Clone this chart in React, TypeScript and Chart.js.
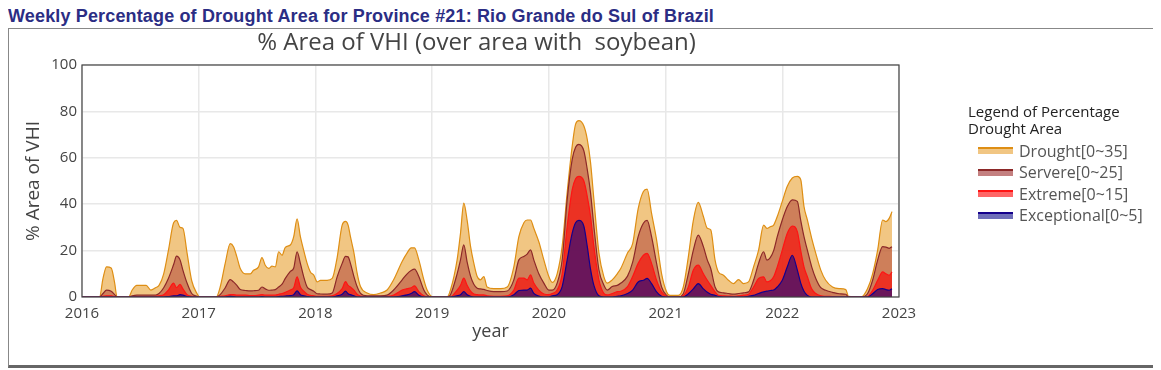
import React, { useEffect, useRef } from 'react';
import { Chart, registerables } from 'chart.js';

Chart.register(...registerables);

// ---- data (decimal year of each sampled week, and % area per class) ----
const weeks = [
  2016.0, 2016.15, 2016.18, 2016.21, 2016.25, 2016.28, 2016.3, 2016.4, 2016.43, 2016.47,
  2016.55, 2016.59, 2016.63, 2016.66, 2016.7, 2016.74, 2016.785, 2016.81, 2016.84, 2016.865,
  2016.9, 2016.94, 2016.985, 2017.01, 2017.15, 2017.184, 2017.227, 2017.27, 2017.298, 2017.327,
  2017.356, 2017.399, 2017.442, 2017.47, 2017.513, 2017.542, 2017.57, 2017.599, 2017.628, 2017.656,
  2017.685, 2017.714, 2017.742, 2017.785, 2017.814, 2017.843, 2017.871, 2017.9, 2017.929, 2017.957,
  2017.986, 2018.015, 2018.043, 2018.1, 2018.144, 2018.186, 2018.229, 2018.258, 2018.28, 2018.3,
  2018.33, 2018.357, 2018.386, 2018.443, 2018.5, 2018.557, 2018.614, 2018.67, 2018.743, 2018.786,
  2018.82, 2018.849, 2018.886, 2018.929, 2018.957, 2019.0, 2019.129, 2019.157, 2019.214, 2019.243,
  2019.271, 2019.3, 2019.329, 2019.357, 2019.386, 2019.414, 2019.443, 2019.471, 2019.529, 2019.586,
  2019.643, 2019.7, 2019.743, 2019.786, 2019.814, 2019.843, 2019.871, 2019.914, 2019.957, 2020.0,
  2020.029, 2020.071, 2020.114, 2020.157, 2020.2, 2020.229, 2020.257, 2020.3, 2020.329, 2020.357,
  2020.386, 2020.429, 2020.471, 2020.5, 2020.543, 2020.586, 2020.617, 2020.674, 2020.718, 2020.765,
  2020.81, 2020.842, 2020.88, 2020.923, 2020.966, 2021.009, 2021.037, 2021.109, 2021.152, 2021.195,
  2021.238, 2021.28, 2021.324, 2021.358, 2021.387, 2021.424, 2021.453, 2021.496, 2021.539, 2021.582,
  2021.625, 2021.668, 2021.711, 2021.754, 2021.797, 2021.84, 2021.868, 2021.897, 2021.926, 2021.957,
  2022.0, 2022.043, 2022.086, 2022.129, 2022.158, 2022.186, 2022.215, 2022.252, 2022.287, 2022.33,
  2022.372, 2022.43, 2022.487, 2022.544, 2022.567, 2022.673, 2022.73, 2022.774, 2022.817, 2022.86,
  2022.888, 2022.917, 2022.94,
];

const drought = [
  0, 0, 8, 13, 12.5, 6, 0, 0, 3, 5,
  5, 3, 4, 5, 10, 20, 32, 33, 30, 29.6,
  19, 7, 1.5, 0, 0, 4.3, 14.5, 23, 21.7, 17.3,
  12.3, 10, 10, 11.5, 13, 17, 13.7, 12.3, 13.3, 13,
  19.5, 18, 21.4, 22.4, 26, 33.7, 26, 20, 14.5, 10.8,
  9.4, 6.5, 7.2, 7.2, 8, 17, 31, 32.6, 31, 26,
  19, 10.4, 4.5, 1.7, 1, 1.7, 3, 7.4, 15.3, 19,
  21.2, 21.2, 16, 7.4, 3, 0.2, 0, 3, 16, 27.5,
  40.5, 33, 21.8, 14.6, 8.8, 7.4, 8.8, 4.3, 3.6, 3.6,
  4.3, 13, 26, 32, 33.2, 33.2, 29.6, 23.8, 16, 8.8,
  6.3, 10, 21.8, 45, 65, 74.5, 76, 73.7, 68, 58,
  42, 19, 8.8, 6, 7.4, 10, 12.4, 19, 23, 38,
  45.5, 46.5, 36, 24.6, 10, 2.2, 0.7, 0.7, 4.3, 17.3,
  33, 40.8, 34.7, 29.6, 28.9, 15.9, 10.8, 9.4, 7.2, 5.8,
  7.5, 5.8, 6.5, 13, 20.2, 31, 29.6, 30.3, 31, 34.7,
  41.2, 47.7, 51.3, 52, 50.6, 39, 33.2, 25.3, 18.8, 11.6,
  7.2, 4.3, 3.6, 3.2, 0.3, 0, 3.6, 10, 20.2, 33.2,
  32.5, 34, 36.8,
];

const severe = [
  0, 0, 1.5, 3, 2.5, 1, 0, 0, 0.5, 0.8,
  0.8, 0.8, 0.8, 1.5, 4, 8, 14, 17.6, 16, 11.5,
  6, 1.5, 0.3, 0, 0, 1, 4, 7.5, 6.5, 5,
  3.2, 2.8, 2.6, 2.7, 2.9, 4.3, 3.5, 2.9, 3, 3.2,
  4.3, 5.5, 8, 11, 12.5, 19.5, 14.5, 8.7, 4.3, 3.2,
  2.5, 1.4, 1.3, 1.2, 1.7, 8.7, 14.5, 17.5, 17.3, 14.5,
  8.8, 4.5, 1.6, 0.5, 0.5, 0.5, 0.8, 3, 7.4, 10,
  11.4, 12, 8.8, 3, 0.9, 0, 0, 1, 10, 16,
  22.5, 15, 9, 5.5, 3.8, 3.5, 3.3, 2.8, 2.3, 2.3,
  2.6, 7.4, 16, 17.5, 18.5, 20.3, 16, 10, 6, 3,
  3, 6, 16, 42, 59.3, 64.5, 65.8, 63, 55, 45,
  30.4, 11.7, 5.2, 3, 4.5, 5, 6, 9, 15, 26,
  31.8, 33, 26, 14.5, 4.3, 0.7, 0, 0, 1.4, 10,
  20.2, 26.7, 21.7, 15.9, 12.3, 4.3, 2.2, 1.8, 1.5, 1.2,
  1.5, 1.8, 2.2, 7.2, 14.5, 19.5, 15.9, 17, 20, 26,
  33.2, 39, 41.9, 41.2, 33, 26, 20.2, 13, 8, 4,
  2.9, 2, 1.4, 1.2, 0, 0, 1.4, 7.2, 15.9, 21.7,
  21.5, 21, 21.7,
];

const extreme = [
  0, 0, 0.3, 0.5, 0.5, 0.2, 0, 0, 0, 0.2,
  0.2, 0.2, 0.3, 0.5, 1, 3, 6, 4, 5.5, 3.5,
  1, 0.3, 0, 0, 0, 0.3, 0.5, 1, 1, 0.8,
  0.8, 0.8, 0.6, 0.6, 0.8, 1, 0.8, 0.8, 0.8, 0.8,
  1.2, 1.5, 2, 3, 4, 8.7, 4.3, 2.5, 1.2, 0.7,
  0.5, 0.3, 0.3, 0.3, 0.5, 1.5, 3.6, 6.6, 5, 4.3,
  3, 1.2, 0.4, 0, 0, 0, 0.2, 0.8, 3, 3.6,
  4, 4.8, 2.3, 0.5, 0, 0, 0, 0, 3, 5,
  8.1, 5, 2.5, 1.3, 1, 0.9, 0.9, 0.5, 0.3, 0.3,
  0.5, 3, 8.1, 8.1, 7.4, 9.5, 6, 3, 1.3, 1,
  1.5, 3, 10, 30.4, 46.3, 51, 52, 50, 43.4, 34.8,
  21.8, 7.4, 1.6, 0.9, 1.5, 2.3, 2.5, 4.5, 8.8, 14.5,
  18, 18.8, 14.5, 7.2, 2.2, 0.3, 0, 0, 0.5, 4.3,
  11.6, 13.7, 10, 7.2, 5, 2.2, 0.7, 0.5, 0.4, 0.3,
  0.5, 0.8, 1.2, 4.3, 8, 8.7, 6.5, 7, 8.7, 13,
  20.2, 27.5, 30.6, 28.2, 20, 13, 8.7, 3.5, 1.5, 0.5,
  0.3, 0.2, 0, 0, 0, 0, 0.2, 2.9, 7.2, 10.8,
  10, 9.4, 10.8,
];

const exceptional = [
  0, 0, 0, 0, 0, 0, 0, 0, 0, 0,
  0, 0, 0, 0, 0, 0.2, 0.5, 0.5, 1, 0.8,
  0.2, 0, 0, 0, 0, 0, 0, 0.3, 0.2, 0,
  0, 0, 0, 0, 0, 0.2, 0, 0, 0, 0,
  0.2, 0.3, 0.4, 0.6, 1, 2.6, 1, 0.5, 0.2, 0,
  0, 0, 0, 0, 0, 0.5, 1.2, 2.5, 1.4, 1,
  0.5, 0, 0, 0, 0, 0, 0, 0, 0.5, 0.9,
  1.5, 2.3, 0.8, 0, 0, 0, 0, 0, 0.5, 1,
  2.3, 1, 0.3, 0, 0, 0, 0, 0, 0, 0,
  0, 1, 2.8, 3, 3, 3.8, 1.6, 0.4, 0, 0,
  0.5, 1, 4.5, 16, 27.5, 32, 33, 30.5, 21.8, 12,
  5, 0.5, 0, 0, 0, 0.3, 0.5, 1.5, 3, 6.5,
  7.2, 8, 5.8, 2.2, 0.3, 0, 0, 0, 0, 1.4,
  3.5, 5.8, 3.5, 2, 1.2, 0.7, 0.2, 0, 0, 0,
  0, 0, 0.3, 0.7, 1.5, 2.2, 2.5, 2.8, 3, 4.3,
  7.2, 13, 18, 11.6, 6, 2.5, 0.7, 0, 0, 0,
  0, 0, 0, 0, 0, 0, 0, 1.4, 3.2, 3.6,
  3.2, 2.9, 3.6,
];

const seriesLabels = ['Drought[0~35]', 'Servere[0~25]', 'Extreme[0~15]', 'Exceptional[0~5]'];
const yearTicks = [2016, 2017, 2018, 2019, 2020, 2021, 2022, 2023];
const yTicks = [0, 20, 40, 60, 80, 100];
const chartTitle = '% Area of VHI (over area with  soybean)';

// ---- styles ----
const FONT = "'Open Sans', 'DejaVu Sans', sans-serif";
const fills = ['rgba(232,160,48,0.6)', 'rgba(165,42,42,0.45)', 'rgba(255,0,0,0.6)', 'rgba(0,0,139,0.55)'];
const lines = ['rgb(222,142,20)', 'rgb(140,40,40)', 'rgb(255,20,20)', 'rgb(20,0,140)'];
const swatchFills = ['rgb(241,198,131)', 'rgb(196,128,128)', 'rgb(255,102,102)', 'rgb(110,110,185)'];

const framePlugin = {
  id: 'frame',
  afterDraw(chart: any) {
    const { ctx, chartArea } = chart;
    ctx.save();
    ctx.strokeStyle = '#444';
    ctx.lineWidth = 1.2;
    ctx.strokeRect(chartArea.left, chartArea.top, chartArea.right - chartArea.left, chartArea.bottom - chartArea.top);
    // chart title, centred slightly left of the plot centre as in the original figure
    ctx.fillStyle = '#444';
    ctx.font = `24px ${FONT}`;
    ctx.textAlign = 'center';
    ctx.textBaseline = 'middle';
    ctx.fillText(chartTitle, (chartArea.left + chartArea.right) / 2 - 14, 14);
    ctx.restore();
  },
};

export default function App() {
  const ref = useRef<HTMLCanvasElement | null>(null);

  useEffect(() => {
    if (!ref.current) return;
    const all = [drought, severe, extreme, exceptional];
    const datasets = all.map((vals, i) => ({
      label: seriesLabels[i],
      data: weeks.map((w, k) => ({ x: w, y: vals[k] })),
      backgroundColor: fills[i],
      borderColor: lines[i],
      borderWidth: 1.2,
      pointRadius: 0,
      fill: 'origin',
      cubicInterpolationMode: 'monotone' as const,
      order: 4 - i,
    }));
    const chart = new Chart(ref.current, {
      type: 'line',
      data: { datasets },
      plugins: [framePlugin],
      options: {
        animation: false,
        responsive: false,
        devicePixelRatio: 1,
        layout: { padding: { left: 13, right: 256, top: 36, bottom: 21 } },
        plugins: {
          legend: { display: false },
          tooltip: { enabled: false },
          title: { display: false },
        },
        scales: {
          x: {
            type: 'linear',
            min: 2016,
            max: 2023,
            afterBuildTicks: (s: any) => { s.ticks = yearTicks.map((v) => ({ value: v })); },
            afterFit: (s: any) => { s.height = 46; },
            ticks: {
              color: '#444',
              font: { family: FONT, size: 15 },
              padding: 8,
              maxRotation: 0,
              callback: (v: any) => String(v),
            },
            grid: { color: '#e8e8e8', lineWidth: 1.5, drawTicks: false },
            border: { display: false },
            title: {
              display: true,
              text: 'year',
              color: '#444',
              font: { family: FONT, size: 18 },
              padding: { top: 0, bottom: 0 },
            },
          },
          y: {
            min: 0,
            max: 100,
            afterBuildTicks: (s: any) => { s.ticks = yTicks.map((v) => ({ value: v })); },
            afterFit: (s: any) => { s.width = 60; },
            ticks: {
              color: '#444',
              font: { family: FONT, size: 15 },
              padding: 5,
            },
            grid: { color: '#e8e8e8', lineWidth: 1.5, drawTicks: false },
            border: { display: false },
            title: {
              display: true,
              text: '% Area of VHI',
              color: '#444',
              font: { family: FONT, size: 19 },
              padding: { top: 0, bottom: 0 },
            },
          },
        },
      },
    } as any);
    return () => chart.destroy();
  }, []);

  return (
    <div style={{ position: 'relative', width: 1150, height: 362 }}>
      <div
        style={{
          position: 'absolute', top: -2, left: 0, whiteSpace: 'nowrap',
          font: "bold 18px 'Liberation Sans', Arial, sans-serif", lineHeight: '20px', color: '#2b2d84',
          letterSpacing: '0.15px',
        }}
      >
        Weekly Percentage of Drought Area for Province #21: Rio Grande do Sul of Brazil
      </div>
      <div
        style={{
          position: 'absolute', top: 20, left: 0, width: 1146, height: 336,
          borderTop: '1px solid #888', borderLeft: '1px solid #888', borderRight: '1px solid #888',
          borderBottom: '3px solid #666',
        }}
      >
        <canvas ref={ref} width={1146} height={335} style={{ position: 'absolute', top: 0, left: 0 }} />
        <div style={{ position: 'absolute', left: 959, top: 74, fontFamily: FONT, color: '#222' }}>
          <div style={{ fontSize: 15, lineHeight: '17px' }}>Legend of Percentage<br />Drought Area</div>
          <div style={{ marginTop: 3 }}>
            {seriesLabels.map((lab, i) => (
              <div key={lab} style={{ display: 'flex', alignItems: 'center', height: 21.5, marginLeft: 10 }}>
                <div
                  style={{
                    width: 35, height: 7, background: swatchFills[i],
                    borderTop: `2px solid ${lines[i]}`, boxSizing: 'border-box', flexShrink: 0,
                  }}
                />
                <span style={{ marginLeft: 6, fontSize: 16, color: '#555', whiteSpace: 'nowrap' }}>{lab}</span>
              </div>
            ))}
          </div>
        </div>
      </div>
    </div>
  );
}
